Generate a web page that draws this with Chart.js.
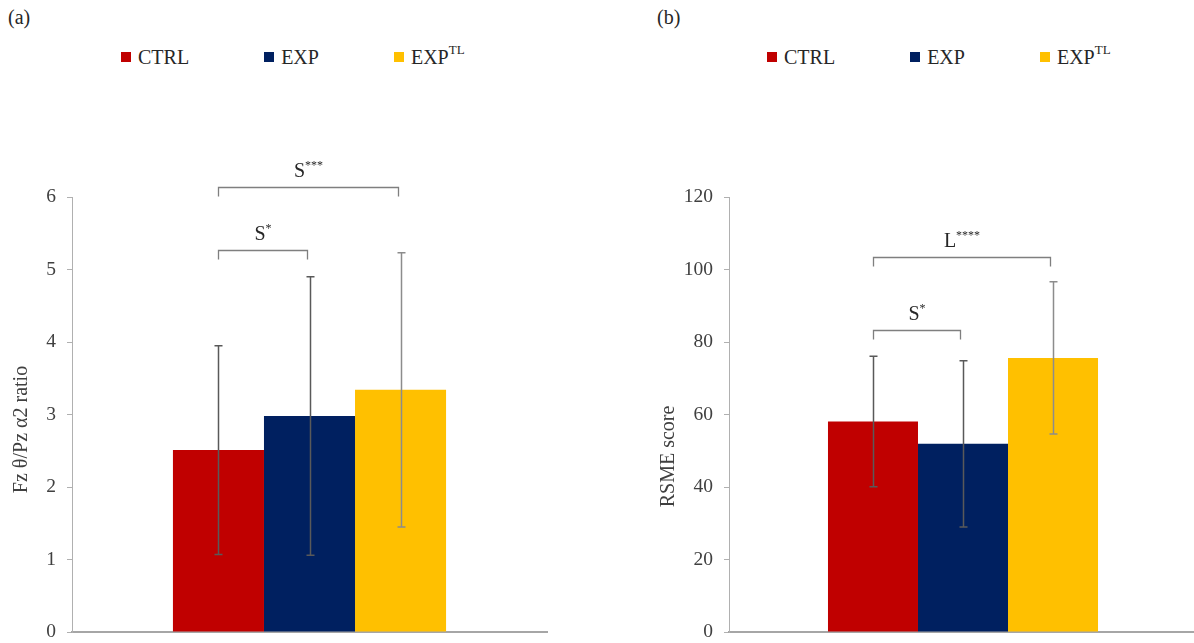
<!DOCTYPE html>
<html>
<head>
<meta charset="utf-8">
<script src="https://cdn.jsdelivr.net/npm/chart.js@4.4.1/dist/chart.umd.min.js"></script>
<style>
  html, body { margin: 0; padding: 0; }
  body {
    width: 1194px; height: 643px; overflow: hidden; position: relative;
    background: #fff; font-family: 'Liberation Serif'; color: #262626;
  }
  .panel { position: absolute; top: 0; height: 643px; }
  .panel canvas { display: block; }
  .tag { position: absolute; top: 7px; font-family: 'Liberation Serif'; font-size: 20px; line-height: 20px; }
  .legend {
    position: absolute; top: 45px; height: 24px; display: flex; align-items: center;
    font-family: 'Liberation Serif'; font-size: 20px; line-height: 24px; white-space: nowrap;
  }
  .legend .item { display: flex; align-items: center; margin-right: 75px; }
  .legend .item:last-child { margin-right: 0; }
  .legend i { display: inline-block; width: 10px; height: 10px; margin-right: 7px; }
  .legend sup { font-size: 13px; line-height: 13px; position: relative; top: -8px; vertical-align: baseline; }
</style>
</head>
<body>

<div class="tag" style="left:8px">(a)</div>
<div class="tag" style="left:657px">(b)</div>

<div class="legend" id="legendA" style="left:121px"></div>
<div class="legend" id="legendB" style="left:767px"></div>

<div class="panel" style="left:0; width:597px"><canvas id="chartA" width="597" height="643"></canvas></div>
<div class="panel" style="left:597px; width:604px"><canvas id="chartB" width="604" height="643"></canvas></div>

<script>
// Groups compared in both panels
const groupNames = ['CTRL', 'EXP', 'EXP'];
const groupSup   = ['', '', 'TL'];

// Panel (a): Fz theta / Pz alpha2 ratio, mean and standard deviation
const ratioMeans = [2.51, 2.98, 3.34];
const ratioSD    = [1.44, 1.92, 1.89];
const ratioTicks = { min: 0, max: 6, step: 1 };

// Panel (b): RSME score, mean and standard deviation
const rsmeMeans = [58.1, 51.9, 75.6];
const rsmeSD    = [18.0, 22.9, 21.0];
const rsmeTicks = { min: 0, max: 120, step: 20 };

// Pairwise comparisons: groups joined, test letter, significance stars, bracket height (axis units)
const ratioPairs = [
  { from: 0, to: 1, test: 'S', stars: '*',   at: 5.27 },
  { from: 0, to: 2, test: 'S', stars: '***', at: 6.14 }
];
const rsmePairs = [
  { from: 0, to: 1, test: 'S', stars: '*',    at: 83.3 },
  { from: 0, to: 2, test: 'L', stars: '****', at: 103.4 }
];

// Styling
const barColors   = ['#C00000', '#002060', '#FFC000'];
const errorColors = ['#595959', '#595959', '#8c8c8c'];
const SERIF = "'Liberation Serif'";

function buildLegend(id) {
  const box = document.getElementById(id);
  groupNames.forEach((name, i) => {
    const item = document.createElement('span');
    item.className = 'item';
    const sw = document.createElement('i');
    sw.style.background = barColors[i];
    item.appendChild(sw);
    item.appendChild(document.createTextNode(name));
    if (groupSup[i]) {
      const s = document.createElement('sup');
      s.textContent = groupSup[i];
      item.appendChild(s);
    }
    box.appendChild(item);
  });
}

// Vertical error bars with caps, drawn from the means and SDs
const errorBarPlugin = {
  id: 'errorBars',
  afterDatasetsDraw(chart) {
    const { ctx } = chart;
    const y = chart.scales.y;
    ctx.save();
    ctx.lineWidth = 1.5;
    chart.data.datasets.forEach((ds, i) => {
      const el = chart.getDatasetMeta(i).data[0];
      const x = Math.round(el.x) + 0.5;
      const top = y.getPixelForValue(ds.data[0] + ds.sd);
      const bot = y.getPixelForValue(ds.data[0] - ds.sd);
      ctx.strokeStyle = ds.errorColor;
      ctx.beginPath();
      ctx.moveTo(x, top); ctx.lineTo(x, bot);
      ctx.moveTo(x - 4, top); ctx.lineTo(x + 4, top);
      ctx.moveTo(x - 4, bot); ctx.lineTo(x + 4, bot);
      ctx.stroke();
    });
    ctx.restore();
  }
};

// Significance brackets with labels such as S*** above the bars
function bracketPlugin(pairs) {
  return {
    id: 'brackets',
    afterDraw(chart) {
      const { ctx } = chart;
      const y = chart.scales.y;
      ctx.save();
      pairs.forEach(p => {
        const x1 = Math.round(chart.getDatasetMeta(p.from).data[0].x) + 0.5;
        const x2 = Math.round(chart.getDatasetMeta(p.to).data[0].x) - 2.5;
        const yy = Math.round(y.getPixelForValue(p.at)) + 0.5;
        ctx.strokeStyle = '#7f7f7f';
        ctx.lineWidth = 1.3;
        ctx.beginPath();
        ctx.moveTo(x1, yy + 9); ctx.lineTo(x1, yy); ctx.lineTo(x2, yy); ctx.lineTo(x2, yy + 9);
        ctx.stroke();

        ctx.fillStyle = '#262626';
        ctx.textBaseline = 'alphabetic';
        ctx.textAlign = 'left';
        ctx.font = '20px ' + SERIF;
        const w1 = ctx.measureText(p.test).width;
        ctx.font = '12px ' + SERIF;
        const w2 = ctx.measureText(p.stars).width;
        const cx = (x1 + x2) / 2;
        const start = cx - (w1 + w2) / 2;
        const base = yy - 11;
        ctx.font = '20px ' + SERIF;
        ctx.fillText(p.test, start, base);
        ctx.font = '12px ' + SERIF;
        ctx.fillText(p.stars, start + w1, base - 8);
      });
      ctx.restore();
    }
  };
}

// Rotated y-axis title placed beside the tick labels
function axisTitlePlugin(text, x, dy) {
  return {
    id: 'axisTitle',
    afterDraw(chart) {
      const { ctx, chartArea } = chart;
      ctx.save();
      ctx.translate(x, (chartArea.top + chartArea.bottom) / 2 + dy);
      ctx.rotate(-Math.PI / 2);
      ctx.font = '20px ' + SERIF;
      ctx.fillStyle = '#404040';
      ctx.textAlign = 'center';
      ctx.textBaseline = 'middle';
      ctx.fillText(text, 0, 0);
      ctx.restore();
    }
  };
}

function makeChart(id, means, sds, ticks, pairs, title, titleX, titleDy, pad, catPct) {
  const datasets = means.map((m, i) => ({
    label: groupNames[i] + groupSup[i],
    data: [m],
    sd: sds[i],
    errorColor: errorColors[i],
    backgroundColor: barColors[i],
    borderWidth: 0,
    categoryPercentage: catPct,
    barPercentage: 1.0
  }));
  return new Chart(document.getElementById(id), {
    type: 'bar',
    data: { labels: [''], datasets },
    options: {
      responsive: false,
      animation: false,
      events: [],
      layout: { padding: pad },
      plugins: { legend: { display: false }, tooltip: { enabled: false } },
      scales: {
        x: {
          grid: { display: false },
          ticks: { display: false },
          border: { display: true, color: '#a6a6a6', width: 2 },
          afterFit(s) { s.height = 11; }
        },
        y: {
          min: ticks.min, max: ticks.max,
          ticks: {
            stepSize: ticks.step, padding: 11, color: '#404040',
            font: { family: SERIF, size: 19.5 }
          },
          grid: { drawOnChartArea: false, drawTicks: true, tickLength: 5, color: '#b0b0b0' },
          border: { display: true, color: '#b0b0b0', width: 1 },
          afterFit(s) { s.width = 72; s.paddingTop = 0; s.paddingBottom = 0; }
        }
      }
    },
    plugins: [errorBarPlugin, bracketPlugin(pairs), axisTitlePlugin(title, titleX, titleDy)]
  });
}

Chart.defaults.font.family = SERIF;

buildLegend('legendA');
buildLegend('legendB');

function drawAll() {
  makeChart('chartA', ratioMeans, ratioSD, ratioTicks, ratioPairs,
    'Fz \u03B8/Pz \u03B12 ratio', 22, 15,
    { top: 197, right: 50, left: 0, bottom: 0 }, 0.575);

  makeChart('chartB', rsmeMeans, rsmeSD, rsmeTicks, rsmePairs,
    'RSME score', 72, 42,
    { top: 197, right: 4, left: 60, bottom: 0 }, 0.577);
}

Promise.all([
  document.fonts.load("20px 'Liberation Serif'"),
  document.fonts.load("12px 'Liberation Serif'")
]).then(drawAll, drawAll);
</script>
</body>
</html>
